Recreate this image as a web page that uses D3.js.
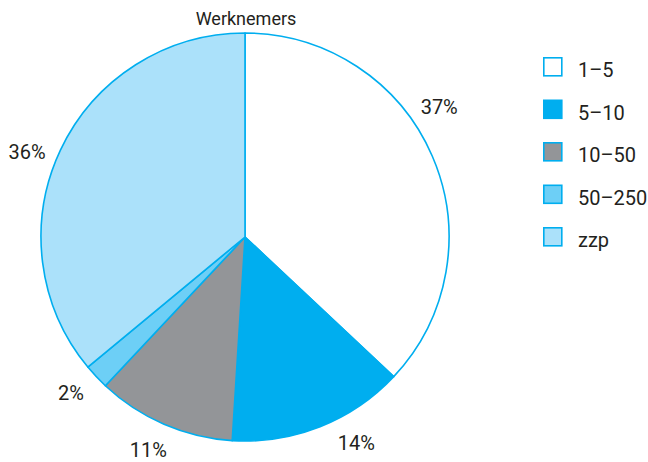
<!DOCTYPE html>
<html>
<head>
<meta charset="utf-8">
<script src="https://cdn.jsdelivr.net/npm/d3@7"></script>
<style>
  html, body { margin: 0; padding: 0; background: #fff; }
  svg { display: block; }
  text { font-family: Roboto, "Liberation Sans", sans-serif; fill: #231f20; }
</style>
</head>
<body>
<svg id="chart" width="648" height="462"></svg>
<script>
// Share of employees by company size
const title = "Werknemers";
const categories = ["1–5", "5–10", "10–50", "50–250", "zzp"];
const values = [37, 14, 11, 2, 36];
const colors = ["#ffffff", "#00aeef", "#939598", "#6dcff6", "#abe1fa"];
// small angular nudges (degrees) for the percentage labels
const labelNudge = [-10.5, -6.8, 1.0, 1.3, -3.9];

const stroke = "#00aeef";
const W = 648, H = 462;
const cx = 245, cy = 237, R = 204;

const svg = d3.select("#chart");

const pie = d3.pie().sort(null).value(d => d.value);
const data = categories.map((c, i) => ({ cat: c, value: values[i], color: colors[i], nudge: labelNudge[i] }));
const arcs = pie(data);

const arc = d3.arc().innerRadius(0).outerRadius(R);

const g = svg.append("g").attr("transform", `translate(${cx},${cy})`);

g.selectAll("path.slice")
  .data(arcs)
  .join("path")
  .attr("class", "slice")
  .attr("d", arc)
  .attr("fill", d => d.data.color)
  .attr("stroke", stroke)
  .attr("stroke-width", 1.6)
  .attr("stroke-linejoin", "round");

// percentage labels around the pie
const labelR = 234;
const labelAngle = d => (d.startAngle + d.endAngle) / 2 + d.data.nudge * Math.PI / 180;
g.selectAll("text.pct")
  .data(arcs)
  .join("text")
  .attr("class", "pct")
  .attr("x", d => labelR * Math.sin(labelAngle(d)))
  .attr("y", d => -labelR * Math.cos(labelAngle(d)))
  .attr("dy", "0.36em")
  .attr("text-anchor", "middle")
  .attr("font-size", 20)
  .text(d => d.data.value + "%");

// title above the pie
svg.append("text")
  .attr("x", 246)
  .attr("y", 25)
  .attr("text-anchor", "middle")
  .attr("font-size", 18)
  .text(title);

// legend
const legend = svg.append("g").attr("transform", "translate(543,57)");
const rowH = 42.5;
const items = legend.selectAll("g.item")
  .data(data)
  .join("g")
  .attr("class", "item")
  .attr("transform", (d, i) => `translate(0,${i * rowH})`);

items.append("rect")
  .attr("x", 0.8)
  .attr("y", 0.8)
  .attr("width", 18)
  .attr("height", 18)
  .attr("fill", d => d.color)
  .attr("stroke", stroke)
  .attr("stroke-width", 1.6);

items.append("text")
  .attr("x", 35)
  .attr("y", 20)
  .attr("font-size", 20)
  .text(d => d.cat);
</script>
</body>
</html>
